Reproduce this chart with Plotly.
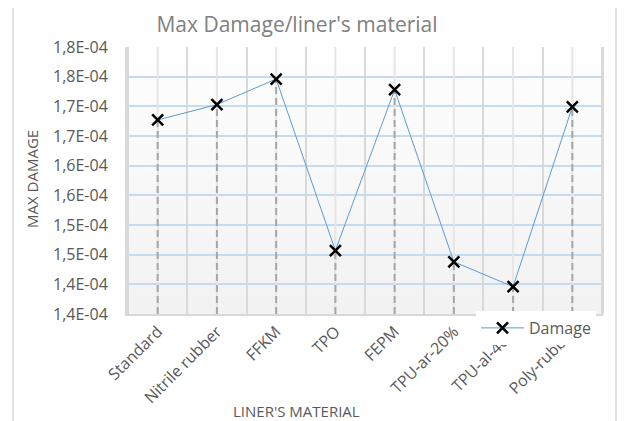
import plotly.graph_objects as go

categories = ["Standard", "Nitrile rubber", "FFKM", "TPO", "FEPM",
              "TPU-ar-20%", "TPU-al-40%", "Poly-rubber"]
damage = [1.677e-4, 1.703e-4, 1.746e-4, 1.457e-4, 1.728e-4,
          1.438e-4, 1.396e-4, 1.699e-4]
y_tickvals = [1.35e-4, 1.40e-4, 1.45e-4, 1.50e-4, 1.55e-4,
              1.60e-4, 1.65e-4, 1.70e-4, 1.75e-4, 1.80e-4]
y_ticktext = ["1,4E-04", "1,4E-04", "1,5E-04", "1,5E-04", "1,6E-04",
              "1,6E-04", "1,7E-04", "1,7E-04", "1,8E-04", "1,8E-04"]

FONT = "Open Sans"
OFF = 8  # page body margin
W, H = 626 - OFF, 421 - OFF
L, R, T, B = 127, 603, 47, 314  # plot area in screen pixels
pw, ph = R - L, B - T

def px_x(p):
    return (p - L) / pw

def px_y(p):
    return (B - p) / ph

ymin, ymax = y_tickvals[0], y_tickvals[-1]

fig = go.Figure()
# category-centre light lines
for c in categories:
    fig.add_trace(go.Scatter(x=[c, c], y=[ymin, ymax], mode="lines",
                             line=dict(color="#e6e6e6", width=2),
                             showlegend=False, hoverinfo="skip"))
# dashed drop lines
for c, v in zip(categories, damage):
    fig.add_trace(go.Scatter(x=[c, c], y=[ymin, v], mode="lines",
                             line=dict(color="#a6a6a6", width=2, dash="7px,4px"),
                             showlegend=False, hoverinfo="skip"))
fig.add_trace(go.Scatter(
    x=categories, y=damage, mode="lines+markers", name="Damage",
    line=dict(color="#5b9bd5", width=1),
    marker=dict(symbol="x-thin-open", size=11, color="black",
                line=dict(color="black", width=2.5)),
))

shapes = []
# gradient background
n = 30
for i in range(n):
    c0 = 0xf2 + round((0xfe - 0xf2) * i / (n - 1))
    shapes.append(dict(type="rect", xref="x domain", yref="y domain",
                       x0=0, x1=1, y0=i / n, y1=(i + 1) / n,
                       fillcolor=f"rgb({c0},{c0},{c0})", line=dict(width=0),
                       layer="below"))
# outer chart border
shapes.append(dict(type="rect", xref="paper", yref="paper",
                   x0=px_x(13), x1=px_x(616), y0=px_y(430), y1=px_y(6),
                   line=dict(color="#d9d9d9", width=1.5),
                   fillcolor="rgba(0,0,0,0)", layer="above"))
# right edge of plot area
shapes.append(dict(type="line", xref="paper", yref="paper", x0=1, x1=1,
                   y0=0, y1=1, line=dict(color="#d9d9d9", width=2),
                   layer="above"))

annotations = [
    dict(text="LINER'S MATERIAL", xref="paper", yref="paper",
         x=px_x(296), y=px_y(411), xanchor="center", yanchor="middle",
         showarrow=False, font=dict(size=15, color="#595959")),
    dict(text="MAX DAMAGE", xref="paper", yref="paper", textangle=-90,
         x=px_x(32), y=px_y(179), xanchor="center", yanchor="middle",
         showarrow=False, font=dict(size=15, color="#595959")),
]

fig.update_layout(
    width=W, height=H,
    margin=dict(l=L - OFF, r=626 - R, t=T - OFF, b=421 - B),
    paper_bgcolor="white", plot_bgcolor="#f8f8f8",
    font=dict(family=FONT, color="#595959", size=15),
    title=dict(text="Max Damage/liner's material", x=px_x(297), xref="paper",
               xanchor="center", y=1 - (25 - OFF) / H, yanchor="middle",
               font=dict(family=FONT, size=21, color="#808080")),
    shapes=shapes,
    annotations=annotations,
    showlegend=True,
    legend=dict(x=px_x(476), y=px_y(311), xanchor="left", yanchor="top",
                bgcolor="white", font=dict(size=16, color="#595959"),
                borderwidth=0, itemwidth=43),
    xaxis=dict(
        type="category", tickson="boundaries", showgrid=True, automargin=False,
        gridcolor="#d9d9d9", gridwidth=2, tickangle=-45,
        ticks="", showline=True, linecolor="#d9d9d9", linewidth=2,
        tickfont=dict(size=16, color="#595959"),
    ),
    yaxis=dict(
        range=[ymin, ymax], automargin=False,
        tickvals=y_tickvals, ticktext=y_ticktext,
        showgrid=True, gridcolor="#c5dbf0", gridwidth=2,
        zeroline=False, showline=True, linecolor="#d9d9d9", linewidth=2,
        ticks="outside", ticklen=14, tickcolor="rgba(0,0,0,0)",
        tickfont=dict(size=16, color="#595959"),
    ),
)

fig.write_html("out.html")
